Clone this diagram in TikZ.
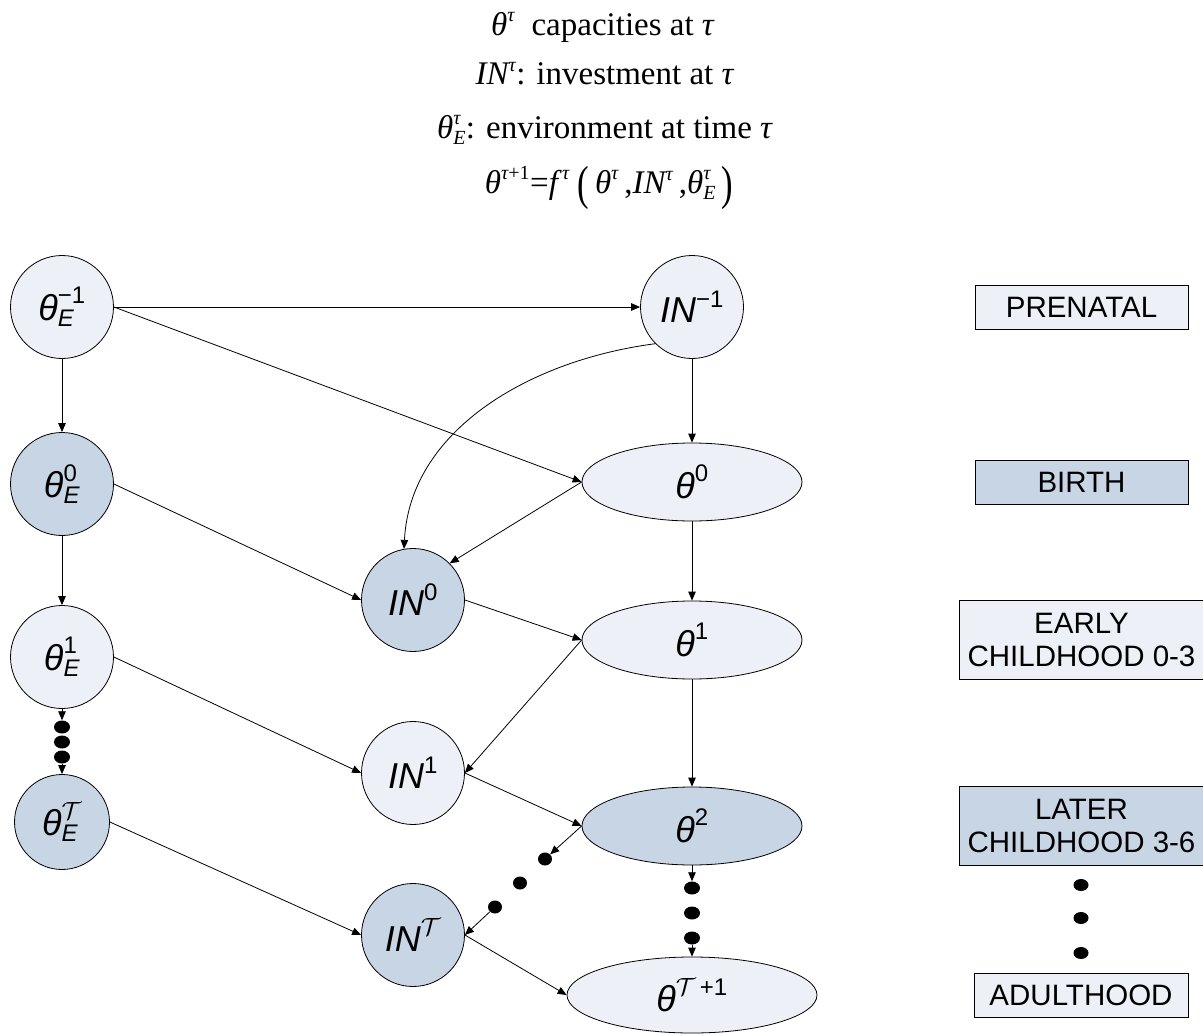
\documentclass[tikz,border=0pt]{standalone}
\usepackage{fontspec}
\usepackage{graphicx}
\setmainfont{Liberation Serif}
\newfontfamily\sfn{Liberation Sans}
\usetikzlibrary{arrows.meta,shapes.geometric}
\definecolor{lightf}{RGB}{237,241,247}
\definecolor{darkf}{RGB}{200,213,228}
\newcommand\hit[1]{\mbox{\itshape #1}}
\newcommand\hsm[1]{\mbox{\fontsize{20}{20}\selectfont\itshape #1}}
\newcommand\nsm[1]{\mbox{\fontsize{24}{24}\selectfont #1}}
\newcommand\nsi[1]{\mbox{\fontsize{24}{24}\selectfont\itshape #1}}
\newcommand\bigpar[1]{\raisebox{-6pt}{\scalebox{1.05}[1.45]{#1}}}
\begin{document}
\begin{tikzpicture}[x=1pt,y=-1pt,
  >={Triangle[length=9pt,width=7.5pt]},
  cnode/.style={circle,draw=black,line width=0.8pt,minimum size=103pt,inner sep=0pt,font=\sfn\fontsize{36}{40}\selectfont},
  enode/.style={ellipse,draw=black,line width=0.8pt,minimum width=220pt,minimum height=78pt,inner sep=0pt,font=\sfn\fontsize{36}{40}\selectfont},
  lt/.style={fill=lightf}, dk/.style={fill=darkf},
  conn/.style={->,line width=0.8pt},
  dotn/.style={ellipse,fill=black,minimum width=16pt,minimum height=13pt,inner sep=0pt},
  stage/.style={draw=black,line width=0.8pt,inner sep=0pt,align=center,font=\sfn\fontsize{29.5}{33}\selectfont},
  hdr/.style={anchor=base,inner sep=0pt,font=\fontsize{33}{36}\selectfont}]
\useasboundingbox (0,0) rectangle (1203,1036);

% header
\node[hdr] (h1) at (603,35) {$\hit{θ}^{\hsm{τ}}$\ \ capacities at \textit{τ}};
\node[hdr] (h2) at (605,84) {$\hit{IN}^{\hsm{τ}}$: investment at \textit{τ}};
\node[hdr] (h3) at (605,138) {$\hit{θ}^{\hsm{τ}}_{\hsm{E}}$: environment at time \textit{τ}};
\node[hdr] (h4) at (609,193) {$\hit{θ}^{\hsm{τ\upshape+1}}\mbox{=}\hit{f}^{\,\hsm{τ}}\mbox{\ \bigpar{(}\,}\hit{θ}^{\hsm{τ}}\mbox{\,,}\hit{IN}^{\hsm{τ}}\mbox{\,,}\hit{θ}^{\hsm{τ}}_{\hsm{E}}\mbox{\,\bigpar{)}}$};

% nodes
\node[cnode,lt] (tem1) at (62,307) {$\hit{θ}^{\nsm{−1}}_{\nsi{E}}$};
\node[cnode,lt] (inm1) at (692,307) {$\hit{IN}^{\nsm{−1}}$};
\node[cnode,dk] (te0) at (62,484) {$\hit{θ}^{\nsm{0}}_{\nsi{E}}$};
\node[enode,lt] (th0) at (692,482) {$\hit{θ}^{\nsm{0}}$};
\node[cnode,dk] (in0) at (413,600) {$\hit{IN}^{\nsm{0}}$};
\node[cnode,lt] (te1) at (62,657) {$\hit{θ}^{\nsm{1}}_{\nsi{E}}$};
\node[enode,lt] (th1) at (692,640) {$\hit{θ}^{\nsm{1}}$};
\node[cnode,lt] (in1) at (413,773) {$\hit{IN}^{\nsm{1}}$};
\node[cnode,dk,minimum size=95pt] (teT) at (62,822) {$\hit{θ}^{\nsm{$\mathcal{T}$}}_{\nsi{E}}$};
\node[enode,dk] (th2) at (692,826) {$\hit{θ}^{\nsm{2}}$};
\node[cnode,dk] (inT) at (413,935) {$\hit{IN}^{\nsm{$\mathcal{T}$}}$};
\node[enode,lt,minimum width=250pt,minimum height=76pt] (thT) at (692,995) {$\hit{θ}^{\nsm{$\mathcal{T}$\,+1}}$};

% dots
\node[dotn] (d1a) at (62,727) {};
\node[dotn] (d1b) at (62,742) {};
\node[dotn] (d1c) at (62,757) {};
\node[dotn,minimum width=14pt] (d2a) at (545,859) {};
\node[dotn,minimum width=14pt] (d2b) at (520,883) {};
\node[dotn,minimum width=14pt] (d2c) at (495,907) {};
\node[dotn] (d3a) at (692,888) {};
\node[dotn] (d3b) at (692,913) {};
\node[dotn] (d3c) at (692,938) {};

% stages
\node[stage,lt,minimum width=213pt,minimum height=44pt] (pre) at (1081.5,307) {PRENATAL};
\node[stage,dk,minimum width=213pt,minimum height=44pt] (bir) at (1081.5,482) {BIRTH};
\node[stage,lt,minimum width=244pt,minimum height=79pt] (ear) at (1081.5,640) {EARLY\\CHILDHOOD 0-3};
\node[stage,dk,minimum width=244pt,minimum height=79pt] (lat) at (1081.5,826) {LATER\\CHILDHOOD 3-6};
\node[stage,lt,minimum width=214pt,minimum height=44pt] (adu) at (1081,995) {ADULTHOOD};
\node[dotn,minimum width=15pt,minimum height=12pt] (r1) at (1081,885) {};
\node[dotn,minimum width=15pt,minimum height=12pt] (r2) at (1081,918) {};
\node[dotn,minimum width=15pt,minimum height=12pt] (r3) at (1081,953) {};

% connectors
\draw[conn] (tem1.east) -- (inm1.west);
\draw[conn] (tem1.east) -- (th0.west);
\draw[conn] (tem1.south) -- (te0.north);
\draw[conn] (inm1.south) -- (th0.north);
\draw[conn] (inm1.225) .. controls (530,360) and (410,430) .. (in0.100);
\draw[conn] (th0.west) -- (in0.45);
\draw[conn] (te0.east) -- (in0.west);
\draw[conn] (te0.south) -- (te1.north);
\draw[conn] (th0.south) -- (th1.north);
\draw[conn] (in0.east) -- (th1.west);
\draw[conn] (th1.west) -- (in1.east);
\draw[conn] (te1.east) -- (in1.west);
\draw[conn] (te1.south) -- (d1a.north);
\draw[conn] (d1c.south) -- (teT.north);
\draw[conn] (th1.south) -- (th2.north);
\draw[conn] (in1.east) -- (th2.west);
\draw[conn] (teT.east) -- (inT.west);
\draw[conn] (th2.west) -- (d2a);
\draw[conn] (d2c) -- (inT.east);
\draw[conn] (th2.south) -- (d3a.north);
\draw[conn] (d3c.south) -- (thT.north);
\draw[conn] (inT.east) -- (thT.west);
\end{tikzpicture}
\end{document}
